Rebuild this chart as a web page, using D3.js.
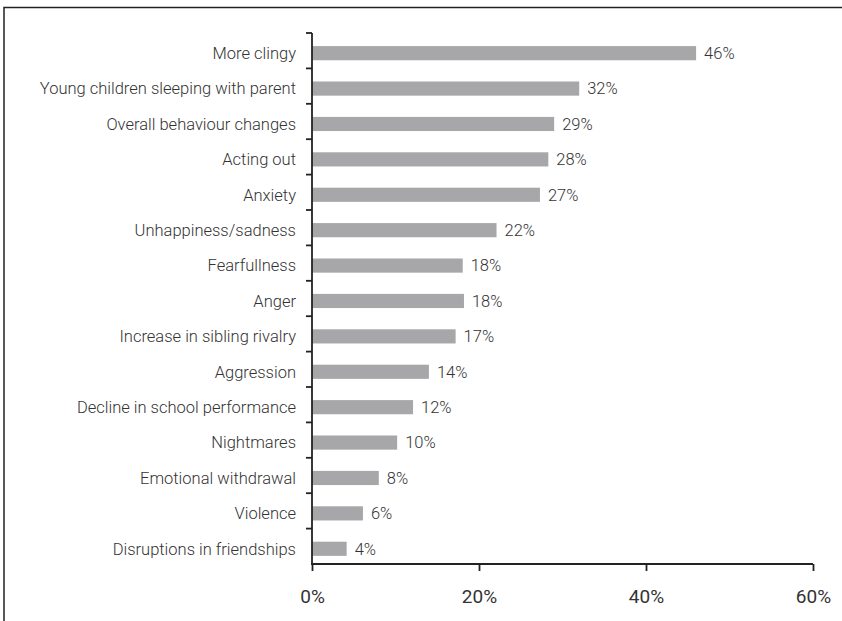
<!DOCTYPE html>
<html>
<head>
<meta charset="utf-8">
<script src="https://cdn.jsdelivr.net/npm/d3@7"></script>
<style>
  body { margin: 0; background: #fff; }
  text { font-family: Roboto, 'Liberation Sans', sans-serif; fill: #333; }
</style>
</head>
<body>
<div id="chart"></div>
<script>
// data
var categories = [
  "More clingy",
  "Young children sleeping with parent",
  "Overall behaviour changes",
  "Acting out",
  "Anxiety",
  "Unhappiness/sadness",
  "Fearfullness",
  "Anger",
  "Increase in sibling rivalry",
  "Aggression",
  "Decline in school performance",
  "Nightmares",
  "Emotional withdrawal",
  "Violence",
  "Disruptions in friendships"
];
var values = [46, 32, 29, 28.3, 27.3, 22.1, 18.05, 18.2, 17.2, 14, 12.1, 10.2, 8, 6.1, 4.15];
var valueLabels = ["46%", "32%", "29%", "28%", "27%", "22%", "18%", "18%", "17%", "14%", "12%", "10%", "8%", "6%", "4%"];
var xTicks = [0, 20, 40, 60];

var width = 842, height = 621;
var barColor = "#a7a7aa";
var axisColor = "#222";
var fontFamily = "Roboto, 'Liberation Sans', sans-serif";

var svg = d3.select("#chart")
  .append("svg")
  .attr("width", width)
  .attr("height", height);

// frame (left and top edges only visible)
svg.append("path")
  .attr("d", "M4,621 L4,7.5 L842,7.5")
  .attr("fill", "none")
  .attr("stroke", axisColor)
  .attr("stroke-width", 1.5);

var x = d3.scaleLinear().domain([0, 60]).range([312, 813]);
var y = d3.scaleBand().domain(categories).range([33, 564]).padding(0);
var bw = y.bandwidth();

var rows = categories.map(function (c, i) {
  return { name: c, value: values[i], label: valueLabels[i] };
});

// bars
svg.selectAll("rect.bar")
  .data(rows)
  .enter()
  .append("rect")
  .attr("class", "bar")
  .attr("x", x(0))
  .attr("y", function (d) { return y(d.name) + bw * 0.37; })
  .attr("width", function (d) { return x(d.value) - x(0); })
  .attr("height", bw * 0.4)
  .attr("fill", barColor);

// category names
svg.selectAll("text.name")
  .data(rows)
  .enter()
  .append("text")
  .attr("class", "name")
  .attr("x", x(0) - 16)
  .attr("y", function (d) { return y(d.name) + bw * 0.57; })
  .attr("dy", "0.35em")
  .attr("text-anchor", "end")
  .style("font-size", "16.5px")
  .style("font-weight", 300)
  .text(function (d) { return d.name; });

// value labels
svg.selectAll("text.score")
  .data(rows)
  .enter()
  .append("text")
  .attr("class", "score")
  .attr("x", function (d) { return x(d.value) + 8; })
  .attr("y", function (d) { return y(d.name) + bw * 0.57; })
  .attr("dy", "0.35em")
  .style("font-size", "16.5px")
  .style("font-weight", 300)
  .text(function (d) { return d.label; });

// y axis line + ticks between categories
svg.append("line")
  .attr("x1", x(0)).attr("x2", x(0))
  .attr("y1", y.range()[0]).attr("y2", y.range()[1])
  .attr("stroke", axisColor)
  .attr("stroke-width", 1.8);

svg.selectAll("line.ytick")
  .data(categories)
  .enter()
  .append("line")
  .attr("class", "ytick")
  .attr("x1", x(0) - 6).attr("x2", x(0))
  .attr("y1", function (d) { return y(d); })
  .attr("y2", function (d) { return y(d); })
  .attr("stroke", axisColor)
  .attr("stroke-width", 1.8);

// x axis
var xAxis = d3.axisBottom(x)
  .tickValues(xTicks)
  .tickSize(7)
  .tickSizeOuter(0)
  .tickPadding(19)
  .tickFormat(function (d) { return d + "%"; });

var gx = svg.append("g")
  .attr("transform", "translate(0," + y.range()[1] + ")")
  .call(xAxis);

gx.select(".domain").attr("stroke", axisColor).attr("stroke-width", 1.8)
  .attr("d", "M" + (x(0) - 1) + ",0H" + x(60));
gx.selectAll(".tick line").attr("stroke", axisColor).attr("stroke-width", 1.8);
gx.selectAll(".tick text")
  .style("font-size", "19px")
  .style("font-family", fontFamily)
  .attr("fill", "#222");
</script>
</body>
</html>
